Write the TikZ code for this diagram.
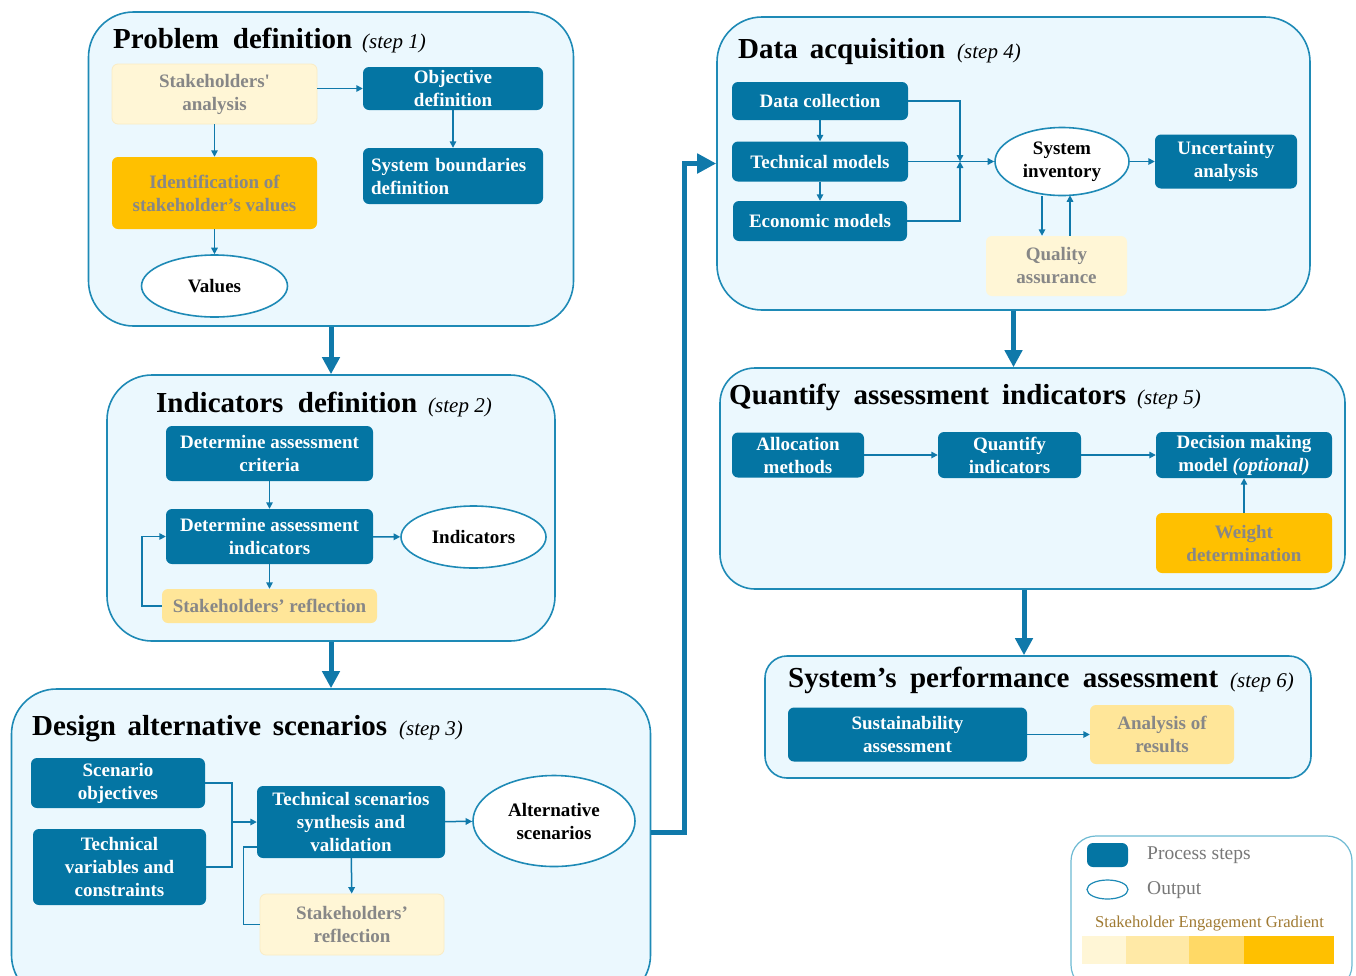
\documentclass[tikz,border=0pt]{standalone}
\usepackage{fontspec}
\setmainfont{Liberation Serif}
\usetikzlibrary{arrows.meta,shapes.geometric}
\definecolor{pblue}{RGB}{4,117,163}
\definecolor{stepfill}{RGB}{235,248,254}
\definecolor{stepdraw}{RGB}{30,138,182}
\definecolor{lnblue}{RGB}{16,121,170}
\definecolor{cream}{RGB}{255,246,214}
\definecolor{creamdraw}{RGB}{250,236,196}
\definecolor{lamber}{RGB}{255,230,153}
\definecolor{amber}{RGB}{255,192,0}
\definecolor{gtext}{RGB}{135,135,135}
\definecolor{legtext}{RGB}{120,120,120}
\definecolor{gold}{RGB}{160,122,50}
\definecolor{legdraw}{RGB}{110,186,211}
\definecolor{gA}{RGB}{255,246,214}
\definecolor{gB}{RGB}{255,233,166}
\definecolor{gC}{RGB}{255,217,102}
\definecolor{gD}{RGB}{255,192,0}
\newcommand\bxf{\fontsize{19}{23}\selectfont\bfseries}
\newcommand\ttlf{\fontsize{29}{32}\selectfont\bfseries}
\newcommand\stpf{\fontsize{21}{24}\selectfont\mdseries\itshape}
\begin{document}
\begin{tikzpicture}[x=1pt,y=-1pt,
  stepbox/.style={draw=stepdraw, line width=1.6pt, fill=stepfill, rounded corners=#1, inner sep=0pt},
  proc/.style={fill=pblue, rounded corners=6pt, text=white, font=\bxf, align=center, inner sep=0pt},
  stk/.style={fill=#1, rounded corners=6pt, text=gtext, font=\bxf, align=center, inner sep=0pt},
  outp/.style={ellipse, draw=stepdraw, line width=1.6pt, fill=white, font=\bxf, align=center, inner sep=0pt},
  ttl/.style={anchor=base west, inner sep=0pt},
  conn/.style={draw=lnblue, line width=1.5pt, -{Triangle[length=6.5pt,width=6.5pt]}},
  plain/.style={draw=lnblue, line width=1.5pt},
  big/.style={draw=lnblue, line width=5pt, -{Triangle[length=17pt,width=17pt]}},
  gbar/.style={inner sep=0pt, minimum height=28pt}
]
\useasboundingbox (0,0) rectangle (1356,975);
\clip (0,0) rectangle (1356,975);
\fill[white] (0,0) rectangle (1356,975);

% ---------- step boxes ----------
\node[stepbox=45pt, minimum width=485pt, minimum height=314pt] (s1) at (331,169) {};
\node[stepbox=45pt, minimum width=448pt, minimum height=266pt] (s2) at (331,508) {};
\node[stepbox=45pt, minimum width=639pt, minimum height=311pt] (s3) at (331,844.5) {};
\node[stepbox=45pt, minimum width=593pt, minimum height=293pt] (s4) at (1013.5,163.5) {};
\node[stepbox=35pt, minimum width=625pt, minimum height=221pt] (s5) at (1032.5,478.5) {};
\node[stepbox=22pt, minimum width=546pt, minimum height=122pt] (s6) at (1038,717) {};

% ---------- titles ----------
\node[ttl] (t1) at (113,48) {\ttlf\makebox[239pt][s]{Problem definition}\hspace{10pt}{\stpf (step 1)}};
\node[ttl] (t2) at (156,412) {\ttlf\makebox[261pt][s]{Indicators definition}\hspace{11pt}{\stpf (step 2)}};
\node[ttl] (t3) at (32,735) {\ttlf\makebox[355pt][s]{Design alternative scenarios}\hspace{12pt}{\stpf (step 3)}};
\node[ttl] (t4) at (738,58) {\ttlf\makebox[207pt][s]{Data acquisition}\hspace{12pt}{\stpf (step 4)}};
\node[ttl] (t5) at (729,404) {\ttlf\makebox[397pt][s]{Quantify assessment indicators}\hspace{11pt}{\stpf (step 5)}};
\node[ttl] (t6) at (788,687) {\ttlf\makebox[430pt][s]{System’s performance assessment}\hspace{12pt}{\stpf (step 6)}};

% ---------- step 1 ----------
\node[stk=cream, draw=creamdraw, line width=0.8pt, minimum width=205pt, minimum height=60pt] (sa) at (214.5,94) {Stakeholders\textquotesingle\\analysis};
\node[proc, minimum width=180pt, minimum height=43pt] (od) at (453,88.5) {Objective\\definition};
\node[stk=amber, minimum width=205pt, minimum height=72pt] (isv) at (214.5,193) {Identification of\\stakeholder’s values};
\node[proc, minimum width=180pt, minimum height=56pt, align=left, text width=164pt] (sbd) at (453,176) {System boundaries\\definition};
\node[outp, minimum width=146pt, minimum height=62pt] (val) at (214.5,286) {Values};
\draw[conn] (sa.east |- od.west) -- (od.west);
\draw[conn] (sa) -- (isv);
\draw[conn] (od) -- (sbd);
\draw[conn] (isv) -- (val);

% ---------- step 2 ----------
\node[proc, minimum width=207pt, minimum height=55pt] (dac) at (269.5,453.5) {Determine assessment\\criteria};
\node[proc, minimum width=207pt, minimum height=55pt] (dai) at (269.5,536.5) {Determine assessment\\indicators};
\node[outp, minimum width=145pt, minimum height=62pt] (ind) at (473.5,537) {Indicators};
\node[stk=lamber, minimum width=215pt, minimum height=34pt] (sr2) at (269.5,606) {Stakeholders’ reflection};
\draw[conn] (dac) -- (dai);
\draw[conn] (dai) -- (ind);
\draw[conn] (dai) -- (sr2);
\draw[conn] (sr2.west) -- ++(-20,0) |- (dai.west);

% ---------- step 3 ----------
\node[proc, minimum width=174pt, minimum height=50pt] (so) at (118,783) {Scenario\\objectives};
\node[proc, minimum width=173pt, minimum height=76pt] (tvc) at (119.5,867) {Technical\\variables and\\constraints};
\node[proc, minimum width=188pt, minimum height=72pt] (tss) at (351,822) {Technical scenarios\\synthesis and\\validation};
\node[outp, minimum width=162pt, minimum height=91pt] (alt) at (554,821) {Alternative\\scenarios};
\node[stk=cream, draw=creamdraw, line width=0.8pt, minimum width=184pt, minimum height=61pt] (sr3) at (352,924.5) {Stakeholders’\\reflection};
\coordinate (j3) at (232,822);
\draw[plain] (so.east) -| (j3);
\draw[plain] (tvc.east) -| (j3);
\draw[conn] (j3) -- (tss.west);
\draw[conn] (tss) -- (sr3);
\draw[plain] (sr3.west) -- ++(-16,0) |- ([yshift=-25pt]tss.west);
\draw[conn] (tss) -- (alt);

% big connector step 3 -> step 4
\draw[big, -{Triangle[length=19pt,width=19pt]}] ([yshift=12.5pt]s3.east) -- ++(33,0) |- (s4.west);

% ---------- step 4 ----------
\node[proc, minimum width=176pt, minimum height=38pt] (dc) at (820,101) {Data collection};
\node[proc, minimum width=176pt, minimum height=40pt] (tm) at (820,161.5) {Technical models};
\node[proc, minimum width=174pt, minimum height=40pt] (em) at (820,221) {Economic models};
\node[outp, minimum width=134pt, minimum height=68pt, text=black] (si) at (1062,161.5) {System\\inventory};
\node[proc, minimum width=142pt, minimum height=54pt] (ua) at (1226,161.5) {Uncertainty\\analysis};
\node[stk=cream, minimum width=141pt, minimum height=60pt] (qa) at (1056.5,266) {Quality\\assurance};
\coordinate (j4) at (960,161.5);
\draw[conn] (dc) -- (tm);
\draw[conn] (tm) -- (em);
\draw[conn] (dc.east) -| (j4);
\draw[conn] (em.east) -| (j4);
\draw[conn] (tm) -- (si);
\draw[conn] (si) -- (ua);
\draw[conn] ([xshift=-20pt]si.south) -- ([xshift=-20pt]si.south |- qa.north);
\draw[conn] ([xshift=8pt]si.south |- qa.north) -- ([xshift=8pt,yshift=1pt]si.south);

% ---------- step 5 ----------
\node[proc, minimum width=132pt, minimum height=45pt] (am) at (798,455) {Allocation\\methods};
\node[proc, minimum width=143pt, minimum height=46pt] (qi) at (1009.5,455) {Quantify\\indicators};
\node[proc, minimum width=176pt, minimum height=46pt] (dm) at (1244,455) {Decision making\\model \textit{(optional)}};
\node[stk=amber, minimum width=176pt, minimum height=60pt] (wd) at (1244,543) {Weight\\determination};
\draw[conn] (am) -- (qi);
\draw[conn] (qi) -- (dm);
\draw[conn] (wd) -- (dm);

% ---------- step 6 ----------
\node[proc, minimum width=239pt, minimum height=54pt] (sus) at (907.5,734.5) {Sustainability\\assessment};
\node[stk=lamber, minimum width=144pt, minimum height=59pt] (aor) at (1162,734.5) {Analysis of\\results};
\draw[conn] (sus) -- (aor);

% ---------- big step arrows ----------
\coordinate (a56) at ([xshift=-8.5pt]s5.south);
\draw[big] (s1.south) -- (s2.north);
\draw[big] (s2.south) -- (s3.north);
\draw[big] (s4.south) -- (s5.north -| s4.south);
\draw[big] (a56) -- (s6.north -| a56);

% ---------- legend ----------
\node[draw=legdraw, line width=1.2pt, fill=white, rounded corners=25pt, minimum width=281pt, minimum height=154pt, inner sep=0pt] (leg) at (1211.5,913) {};
\node[proc, minimum width=41pt, minimum height=24pt] (lp) at (1107.5,855) {};
\node[anchor=west, inner sep=0pt, text=legtext, font=\fontsize{19.5}{21}\selectfont] (lpt) at (1147,855) {Process steps};
\node[outp, line width=1.2pt, minimum width=41pt, minimum height=19pt] (lo) at (1107.5,889.5) {};
\node[anchor=west, inner sep=0pt, text=legtext, font=\fontsize{19.5}{21}\selectfont] (lot) at (1147,890) {Output};
\node[inner sep=0pt, text=gold, font=\fontsize{16.6}{18}\selectfont] (lg) at (1209.5,924) {Stakeholder Engagement Gradient};
\node[gbar, fill=gA, minimum width=44pt] (g1) at (1104,950) {};
\node[gbar, fill=gB, minimum width=63pt] (g2) at (1157.5,950) {};
\node[gbar, fill=gC, minimum width=55pt] (g3) at (1216.5,950) {};
\node[gbar, fill=gD, minimum width=90pt] (g4) at (1289,950) {};
\end{tikzpicture}
\end{document}
